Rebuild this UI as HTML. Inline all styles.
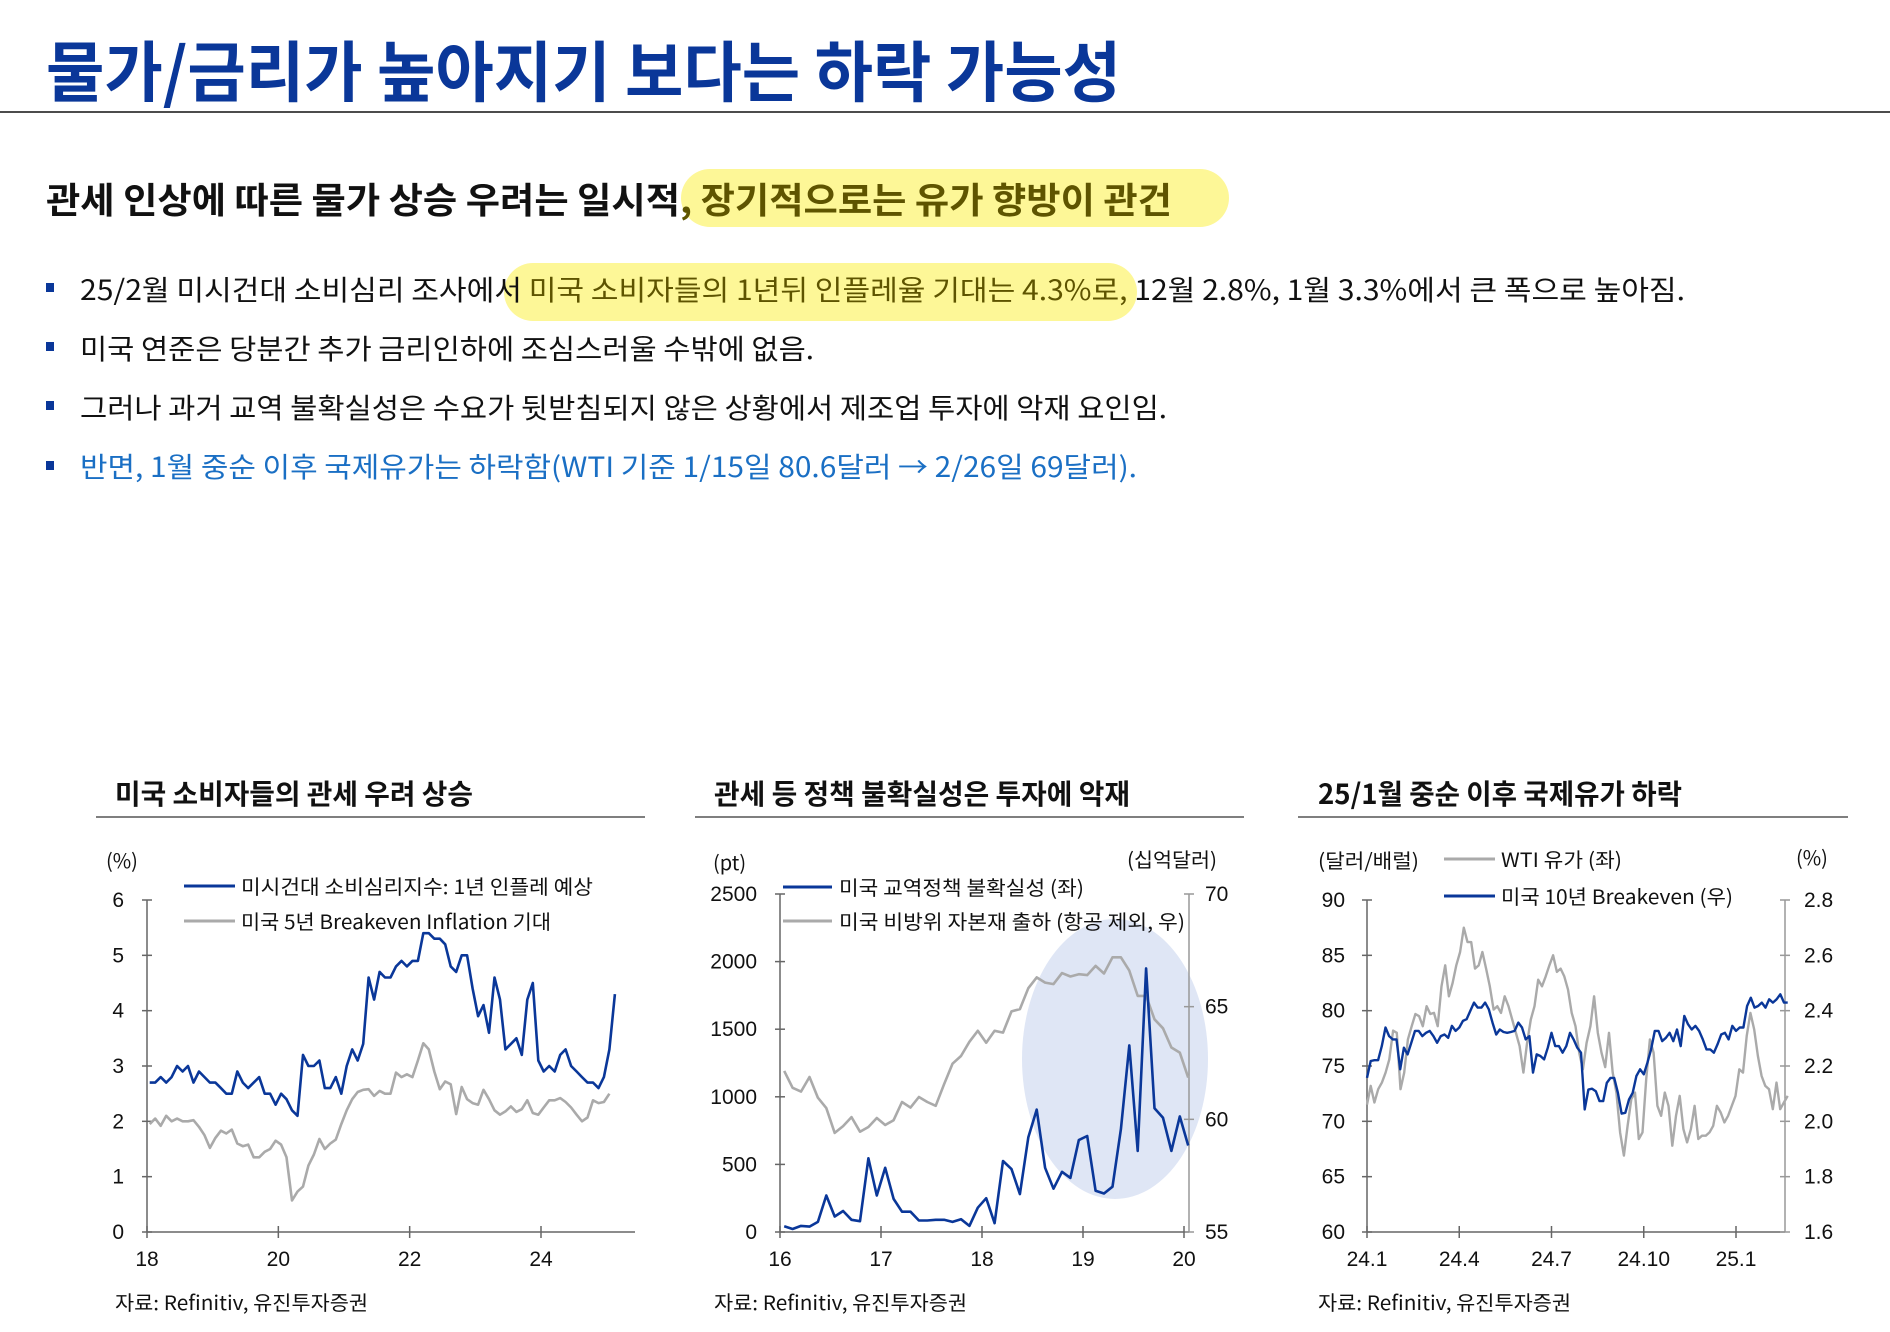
<!DOCTYPE html>
<html><head><meta charset="utf-8">
<style>
html,body{margin:0;padding:0;background:#fff;}
svg{display:block;}
text{font-family:"Liberation Sans","Noto Sans CJK KR",sans-serif;}
.kr{font-family:"Noto Sans CJK KR","Liberation Sans",sans-serif;}
</style></head>
<body>
<svg id="page" width="1890" height="1332" viewBox="0 0 1890 1332" xmlns="http://www.w3.org/2000/svg">
<text class="kr" x="46" y="96" font-size="66" font-weight="700" fill="#0a3799" textLength="1075" lengthAdjust="spacingAndGlyphs">물가/금리가 높아지기 보다는 하락 가능성</text>
<line x1="0" y1="112" x2="1890" y2="112" stroke="#111" stroke-width="1.6"/>
<rect x="681" y="169" width="548" height="58" rx="29" fill="#fdf797"/>
<text class="kr" x="46" y="213" font-size="36" font-weight="700" fill="#111" textLength="1126" lengthAdjust="spacingAndGlyphs">관세 인상에 따른 물가 상승 우려는 일시적<tspan fill="#5e5400">, 장기적으로는 유가 향방이 관건</tspan></text>
<rect x="504" y="263" width="633" height="58" rx="29" fill="#fdf797"/>
<rect x="46" y="283" width="8" height="9" fill="#0a3799"/>
<rect x="46" y="342" width="8" height="9" fill="#0a3799"/>
<rect x="46" y="401" width="8" height="9" fill="#0a3799"/>
<rect x="46" y="461" width="8" height="9" fill="#0a3799"/>
<text class="kr" x="80" y="300" font-size="28" fill="#111" textLength="1605" lengthAdjust="spacingAndGlyphs">25/2월 미시건대 소비심리 조사에서<tspan fill="#5e5400"> 미국 소비자들의 1년뒤 인플레율 기대는 4.3%로,</tspan> 12월 2.8%, 1월 3.3%에서 큰 폭으로 높아짐.</text>
<text class="kr" x="80" y="359" font-size="28" fill="#111" textLength="734" lengthAdjust="spacingAndGlyphs">미국 연준은 당분간 추가 금리인하에 조심스러울 수밖에 없음.</text>
<text class="kr" x="80" y="418" font-size="28" fill="#111" textLength="1087" lengthAdjust="spacingAndGlyphs">그러나 과거 교역 불확실성은 수요가 뒷받침되지 않은 상황에서 제조업 투자에 악재 요인임.</text>
<text class="kr" x="80" y="477" font-size="28" fill="#1a6fc4" textLength="1057" lengthAdjust="spacingAndGlyphs">반면, 1월 중순 이후 국제유가는 하락함(WTI 기준 1/15일 80.6달러 → 2/26일 69달러).</text>

<text class="kr" x="115" y="804" font-size="28" font-weight="700" fill="#111" textLength="358" lengthAdjust="spacingAndGlyphs">미국 소비자들의 관세 우려 상승</text>
<text class="kr" x="714" y="804" font-size="28" font-weight="700" fill="#111" textLength="416" lengthAdjust="spacingAndGlyphs">관세 등 정책 불확실성은 투자에 악재</text>
<text class="kr" x="1318" y="804" font-size="28" font-weight="700" fill="#111" textLength="364" lengthAdjust="spacingAndGlyphs">25/1월 중순 이후 국제유가 하락</text>
<line x1="96" y1="817" x2="645" y2="817" stroke="#555" stroke-width="1.5"/>
<line x1="695" y1="817" x2="1244" y2="817" stroke="#555" stroke-width="1.5"/>
<line x1="1298" y1="817" x2="1848" y2="817" stroke="#555" stroke-width="1.5"/>
<text class="kr" x="115" y="1310" font-size="20" fill="#111" textLength="253" lengthAdjust="spacingAndGlyphs">자료: Refinitiv, 유진투자증권</text>
<text class="kr" x="714" y="1310" font-size="20" fill="#111" textLength="253" lengthAdjust="spacingAndGlyphs">자료: Refinitiv, 유진투자증권</text>
<text class="kr" x="1318" y="1310" font-size="20" fill="#111" textLength="253" lengthAdjust="spacingAndGlyphs">자료: Refinitiv, 유진투자증권</text>

<!-- chart 1 static labels -->
<text class="kr" x="106" y="868" font-size="20" fill="#111">(%)</text>
<line x1="184" y1="886" x2="235" y2="886" stroke="#0a3799" stroke-width="3"/>
<text class="kr" x="241" y="894" font-size="20" fill="#111" textLength="352" lengthAdjust="spacingAndGlyphs">미시건대 소비심리지수: 1년 인플레 예상</text>
<line x1="184" y1="921" x2="235" y2="921" stroke="#aaa" stroke-width="3"/>
<text class="kr" x="241" y="929" font-size="20" fill="#111" textLength="310" lengthAdjust="spacingAndGlyphs">미국 5년 Breakeven Inflation 기대</text>

<!-- chart 2 static labels -->
<ellipse cx="1115" cy="1059" rx="93" ry="140" fill="#dfe6f5"/>
<text class="kr" x="713" y="870" font-size="20" fill="#111">(pt)</text>
<text class="kr" x="1127" y="867" font-size="20" fill="#111" textLength="90" lengthAdjust="spacingAndGlyphs">(십억달러)</text>
<line x1="783" y1="887" x2="832" y2="887" stroke="#0a3799" stroke-width="3"/>
<text class="kr" x="839" y="895" font-size="20" fill="#111" textLength="245" lengthAdjust="spacingAndGlyphs">미국 교역정책 불확실성 (좌)</text>
<line x1="783" y1="921" x2="832" y2="921" stroke="#aaa" stroke-width="3"/>
<text class="kr" x="839" y="929" font-size="20" fill="#111" textLength="346" lengthAdjust="spacingAndGlyphs">미국 비방위 자본재 출하 (항공 제외, 우)</text>

<!-- chart 3 static labels -->
<text class="kr" x="1318" y="868" font-size="20" fill="#111" textLength="101" lengthAdjust="spacingAndGlyphs">(달러/배럴)</text>
<text class="kr" x="1796" y="865" font-size="20" fill="#111">(%)</text>
<line x1="1444" y1="859" x2="1495" y2="859" stroke="#aaa" stroke-width="3"/>
<text class="kr" x="1501" y="867" font-size="20" fill="#111" textLength="121" lengthAdjust="spacingAndGlyphs">WTI 유가 (좌)</text>
<line x1="1444" y1="896" x2="1495" y2="896" stroke="#0a3799" stroke-width="3"/>
<text class="kr" x="1501" y="904" font-size="20" fill="#111" textLength="232" lengthAdjust="spacingAndGlyphs">미국 10년 Breakeven (우)</text>

<g id="charts"></g>
</svg>
<script>
// ---------- Chart 1 data (monthly from Jan 2018) ----------
const c1Michigan = [2.7,2.7,2.8,2.7,2.8,3.0,2.9,3.0,2.7,2.9,2.8,2.7,
2.7,2.6,2.5,2.5,2.9,2.7,2.6,2.7,2.8,2.5,2.5,2.3,
2.5,2.4,2.2,2.1,3.2,3.0,3.0,3.1,2.6,2.6,2.8,2.5,
3.0,3.3,3.1,3.4,4.6,4.2,4.7,4.6,4.6,4.8,4.9,4.8,
4.9,4.9,5.4,5.4,5.3,5.3,5.2,4.8,4.7,5.0,5.0,4.4,
3.9,4.1,3.6,4.6,4.2,3.3,3.4,3.5,3.2,4.2,4.5,3.1,
2.9,3.0,2.9,3.2,3.3,3.0,2.9,2.8,2.7,2.7,2.6,2.8,
3.3,4.3];
const c1Breakeven = [1.95,2.05,1.92,2.1,2.0,2.05,2.0,2.0,2.02,1.9,1.75,1.52,
1.7,1.83,1.78,1.85,1.6,1.55,1.58,1.35,1.35,1.45,1.5,1.65,
1.58,1.35,0.57,0.73,0.82,1.2,1.4,1.68,1.5,1.6,1.67,1.95,
2.2,2.4,2.53,2.57,2.58,2.46,2.55,2.5,2.5,2.88,2.8,2.85,
2.8,3.1,3.41,3.3,2.9,2.58,2.72,2.67,2.13,2.62,2.4,2.33,
2.3,2.57,2.4,2.2,2.12,2.18,2.27,2.17,2.22,2.38,2.15,2.12,
2.25,2.38,2.38,2.42,2.35,2.25,2.12,2.0,2.07,2.38,2.33,2.35,
2.5];
const c1YTicks = [0,1,2,3,4,5,6];
const c1XTicks = [18,20,22,24];

// ---------- Chart 2 data (monthly from Jan 2016) ----------
const c2Uncertainty = [42,22,45,40,75,270,115,155,90,80,545,270,475,245,150,150,85,85,90,90,75,95,45,180,250,65,525,465,280,700,905,475,320,445,400,680,710,305,285,335,760,1380,600,1950,915,845,600,855,640];
const c2Shipments = [62.15,61.4,61.23,61.88,60.96,60.5,59.4,59.7,60.1,59.45,59.66,60.06,59.75,59.96,60.77,60.52,60.99,60.77,60.6,61.56,62.47,62.81,63.44,63.93,63.4,63.93,63.85,64.79,64.89,65.82,66.3,66.07,66.0,66.49,66.34,66.44,66.4,66.81,66.47,67.19,67.19,66.6,65.48,65.48,64.44,64.04,63.19,62.96,61.85];
const c2YTicksLeft = [0,500,1000,1500,2000,2500];
const c2YTicksRight = [55,60,65,70];
const c2XTicks = [16,17,18,19,20];

// ---------- Chart 3 data (Jan 2024 - Feb 2025, evenly spaced samples) ----------
const c3Wti = [71.5,73.2,71.7,72.9,73.5,74.4,75.6,78.2,78.0,72.9,74.4,77.4,78.6,79.7,79.5,78.6,80.4,79.7,79.8,78.6,82.2,84.1,81.3,82.5,84.1,85.3,87.5,86.2,86.2,83.8,84.1,85.3,83.8,82.2,80.1,80.4,79.8,81.3,80.4,79.2,78.0,76.8,74.4,77.1,79.2,80.4,82.8,82.2,83.1,84.1,85.0,83.5,83.8,83.1,81.9,79.8,78.6,76.2,74.7,77.1,78.6,81.3,78.0,76.2,74.9,78.0,74.4,72.6,69.0,66.9,69.6,72.0,72.6,68.4,69.0,73.8,77.4,76.2,71.4,70.5,72.6,71.4,67.8,70.5,72.3,69.3,68.1,69.3,71.4,68.4,68.7,68.7,69.0,69.6,71.4,70.8,69.9,70.5,71.4,72.3,74.7,74.4,77.7,79.8,78.3,75.9,74.1,73.2,72.9,71.1,73.5,71.1,71.7,72.3];
const c3Breakeven = [2.157,2.218,2.221,2.221,2.272,2.339,2.308,2.296,2.296,2.188,2.266,2.242,2.284,2.327,2.327,2.308,2.320,2.327,2.308,2.284,2.308,2.314,2.302,2.345,2.327,2.339,2.363,2.369,2.399,2.429,2.411,2.411,2.429,2.405,2.357,2.314,2.332,2.323,2.320,2.323,2.327,2.357,2.339,2.296,2.308,2.176,2.242,2.236,2.224,2.266,2.320,2.272,2.272,2.248,2.272,2.320,2.296,2.266,2.248,2.043,2.115,2.118,2.109,2.073,2.073,2.139,2.157,2.157,2.103,2.028,2.031,2.079,2.103,2.164,2.188,2.170,2.212,2.260,2.327,2.327,2.290,2.302,2.320,2.290,2.332,2.272,2.381,2.351,2.332,2.345,2.327,2.296,2.260,2.260,2.248,2.278,2.314,2.320,2.296,2.345,2.327,2.339,2.339,2.417,2.447,2.411,2.417,2.429,2.411,2.441,2.429,2.441,2.459,2.429,2.429];
const c3YTicksLeft = [60,65,70,75,80,85,90];
const c3YTicksRight = [1.6,1.8,2.0,2.2,2.4,2.6,2.8];
const c3XTicks = ["24.1","24.4","24.7","24.10","25.1"];
const c3XTickMonths = [0,3,6,9,12];

const NS = "http://www.w3.org/2000/svg";
const root = document.getElementById('charts');
function mk(tag, attrs, txt) {
  const e = document.createElementNS(NS, tag);
  for (const k in attrs) e.setAttribute(k, attrs[k]);
  if (txt !== undefined) e.textContent = txt;
  root.appendChild(e);
  return e;
}
function lin(d0, d1, r0, r1) { return v => r0 + (v - d0) / (d1 - d0) * (r1 - r0); }
function pathFrom(vals, xf, yf) {
  return vals.map((v, i) => (i ? 'L' : 'M') + xf(i).toFixed(1) + ' ' + yf(v).toFixed(1)).join(' ');
}
const AX = '#666', BLUE = '#0a3799', GRAY = '#aaaaaa';

// ===== Chart 1 =====
(function () {
  const x = lin(18, 24, 147, 541), y = lin(0, 6, 1232, 900);
  let el;
  el = mk('line', {x1:147, y1:900, x2:147, y2:1232, stroke:AX, 'stroke-width':1.5});
  
  
  el = mk('line', {x1:147, y1:1232, x2:635, y2:1232, stroke:AX, 'stroke-width':1.5});
  
  
  c1YTicks.forEach(t => {
    const tk = mk('line', {x1:142, y1:y(t), x2:152, y2:y(t), stroke:AX, 'stroke-width':1.5});
    
    
    const lb = mk('text', {x:124, y:y(t)+7, 'font-size':21, 'text-anchor':'end', fill:'#111'}, String(t));
    
    
  });
  c1XTicks.forEach(t => {
    const tk = mk('line', {x1:x(t), y1:1226, x2:x(t), y2:1238, stroke:AX, 'stroke-width':1.5});
    
    
    const lb = mk('text', {x:x(t), y:1266, 'font-size':21, 'text-anchor':'middle', fill:'#111'}, String(t));
    
    
  });
  const xi = i => x(18 + (i + 0.5) / 12);
  const g = mk('path', {d:pathFrom(c1Breakeven, xi, y), fill:'none', stroke:GRAY, 'stroke-width':2.6, 'stroke-linejoin':'round'});
  
  
  const b = mk('path', {d:pathFrom(c1Michigan, xi, y), fill:'none', stroke:BLUE, 'stroke-width':2.6, 'stroke-linejoin':'round'});
  
  
})();

// ===== Chart 2 =====
(function () {
  const x = lin(16, 20, 780, 1184), yl = lin(0, 2500, 1232, 894), yr = lin(55, 70, 1232, 894);
  let el;
  el = mk('line', {x1:780, y1:894, x2:780, y2:1232, stroke:AX, 'stroke-width':1.5});
  
  
  el = mk('line', {x1:1189, y1:894, x2:1189, y2:1232, stroke:'#999', 'stroke-width':1.5});
  
  
  el = mk('line', {x1:780, y1:1232, x2:1189, y2:1232, stroke:AX, 'stroke-width':1.5});
  
  
  c2YTicksLeft.forEach(t => {
    const tk = mk('line', {x1:775, y1:yl(t), x2:785, y2:yl(t), stroke:AX, 'stroke-width':1.5});
    
    
    const lb = mk('text', {x:757, y:yl(t)+7, 'font-size':21, 'text-anchor':'end', fill:'#111'}, String(t));
    
    
  });
  c2YTicksRight.forEach(t => {
    const tk = mk('line', {x1:1184, y1:yr(t), x2:1194, y2:yr(t), stroke:'#999', 'stroke-width':1.5});
    
    
    const lb = mk('text', {x:1205, y:yr(t)+7, 'font-size':21, fill:'#111'}, String(t));
    
    
  });
  c2XTicks.forEach(t => {
    const tk = mk('line', {x1:x(t), y1:1226, x2:x(t), y2:1238, stroke:AX, 'stroke-width':1.5});
    
    
    const lb = mk('text', {x:x(t), y:1266, 'font-size':21, 'text-anchor':'middle', fill:'#111'}, String(t));
    
    
  });
  const xi = i => x(16 + (i + 0.5) / 12);
  const g = mk('path', {d:pathFrom(c2Shipments, xi, yr), fill:'none', stroke:GRAY, 'stroke-width':2.6, 'stroke-linejoin':'round'});
  
  
  const b = mk('path', {d:pathFrom(c2Uncertainty, xi, yl), fill:'none', stroke:BLUE, 'stroke-width':2.6, 'stroke-linejoin':'round'});
  
  
})();

// ===== Chart 3 =====
(function () {
  const x = lin(0, 12, 1367, 1736), yl = lin(60, 90, 1232, 900), yr = lin(1.6, 2.8, 1232, 900);
  const endMonth = 13.68;
  let el;
  el = mk('line', {x1:1367, y1:900, x2:1367, y2:1232, stroke:AX, 'stroke-width':1.5});
  
  
  el = mk('line', {x1:1785, y1:900, x2:1785, y2:1232, stroke:'#999', 'stroke-width':1.5});
  
  
  el = mk('line', {x1:1367, y1:1232, x2:1785, y2:1232, stroke:AX, 'stroke-width':1.5});
  
  
  c3YTicksLeft.forEach(t => {
    const tk = mk('line', {x1:1362, y1:yl(t), x2:1372, y2:yl(t), stroke:AX, 'stroke-width':1.5});
    
    
    const lb = mk('text', {x:1345, y:yl(t)+7, 'font-size':21, 'text-anchor':'end', fill:'#111'}, String(t));
    
    
  });
  c3YTicksRight.forEach(t => {
    const tk = mk('line', {x1:1780, y1:yr(t), x2:1790, y2:yr(t), stroke:'#999', 'stroke-width':1.5});
    
    
    const lb = mk('text', {x:1804, y:yr(t)+7, 'font-size':21, fill:'#111'}, t.toFixed(1));
    
    
  });
  c3XTicks.forEach((t, i) => {
    const m = c3XTickMonths[i];
    const tk = mk('line', {x1:x(m), y1:1226, x2:x(m), y2:1238, stroke:AX, 'stroke-width':1.5});
    
    
    const lb = mk('text', {x:x(m), y:1266, 'font-size':21, 'text-anchor':'middle', fill:'#111'}, t);
    
    
  });
  const xw = i => x(i * endMonth / (c3Wti.length - 1));
  const xb = i => x(i * endMonth / (c3Breakeven.length - 1));
  const g = mk('path', {d:pathFrom(c3Wti, xw, yl), fill:'none', stroke:GRAY, 'stroke-width':2.4, 'stroke-linejoin':'round'});
  
  
  const b = mk('path', {d:pathFrom(c3Breakeven, xb, yr), fill:'none', stroke:BLUE, 'stroke-width':2.4, 'stroke-linejoin':'round'});
  
  
})();
</script>
</body></html>
